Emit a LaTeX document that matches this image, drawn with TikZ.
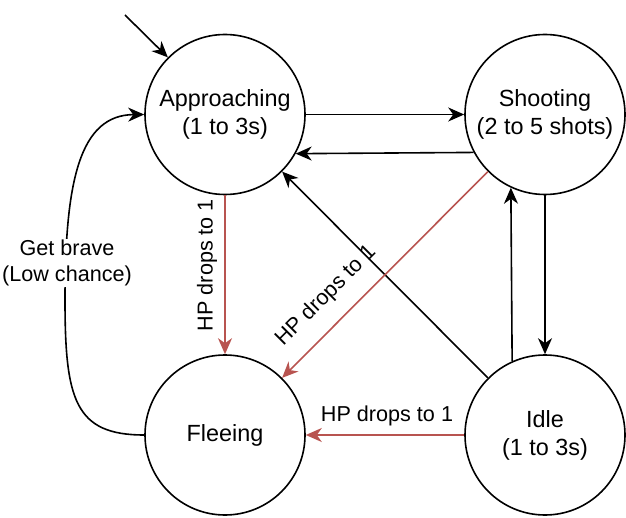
\documentclass[tikz,border=0pt]{standalone}
\usepackage{fontspec}
\setmainfont{Liberation Sans}
\usetikzlibrary{arrows.meta}
\definecolor{hpred}{HTML}{B85450}
\begin{document}
\begin{tikzpicture}[x=1pt,y=-1pt,
  state/.style={circle,draw,line width=1.6pt,minimum size=160pt,inner sep=0pt,align=center,font=\fontsize{23.4}{28}\selectfont},
  conn/.style={line width=1.6pt,-{Stealth[length=16pt,width=14pt,inset=5pt]}},
  hp/.style={conn,draw=hpred},
  lbl/.style={font=\fontsize{21.6}{26}\selectfont,align=center,inner sep=1pt}]
\useasboundingbox (0,0) rectangle (626,518);
\node[state] (app) at (225,114.5) {Approaching\\(1 to 3s)};
\node[state] (sho) at (545,114.5) {Shooting\\(2 to 5 shots)};
\node[state] (fle) at (225,435) {Fleeing};
\node[state] (idl) at (545,435) {Idle\\(1 to 3s)};
\coordinate (init) at (125,15);
\draw[conn] (init) -- (app.135);
\draw[conn] (app.east) -- (sho.west);
\draw[conn] (sho.208.8) -- (app.331.2);
\draw[conn] (idl.135) -- (app.-45);
\draw[conn] (sho.south) -- (idl.north);
\draw[conn] (idl.114.4) -- (sho.245.6);
\draw[hp] (app.south) -- (fle.north);
\node[lbl,rotate=90] (l1) at (207,265) {HP drops to 1};
\draw[hp] (sho.225) -- (fle.45);
\node[lbl,rotate=45] (l2) at (326,296) {HP drops to 1};
\draw[hp] (idl.west) -- (fle.east);
\node[lbl] (l3) at (387,416) {HP drops to 1};
\draw[conn] (fle.west) .. controls (75,435) and (65,400) .. (65,300) .. controls (65,180) and (80,115) .. (app.west);
\node[lbl,fill=white] (l4) at (67,263) {Get brave\\(Low chance)};
\end{tikzpicture}
\end{document}
